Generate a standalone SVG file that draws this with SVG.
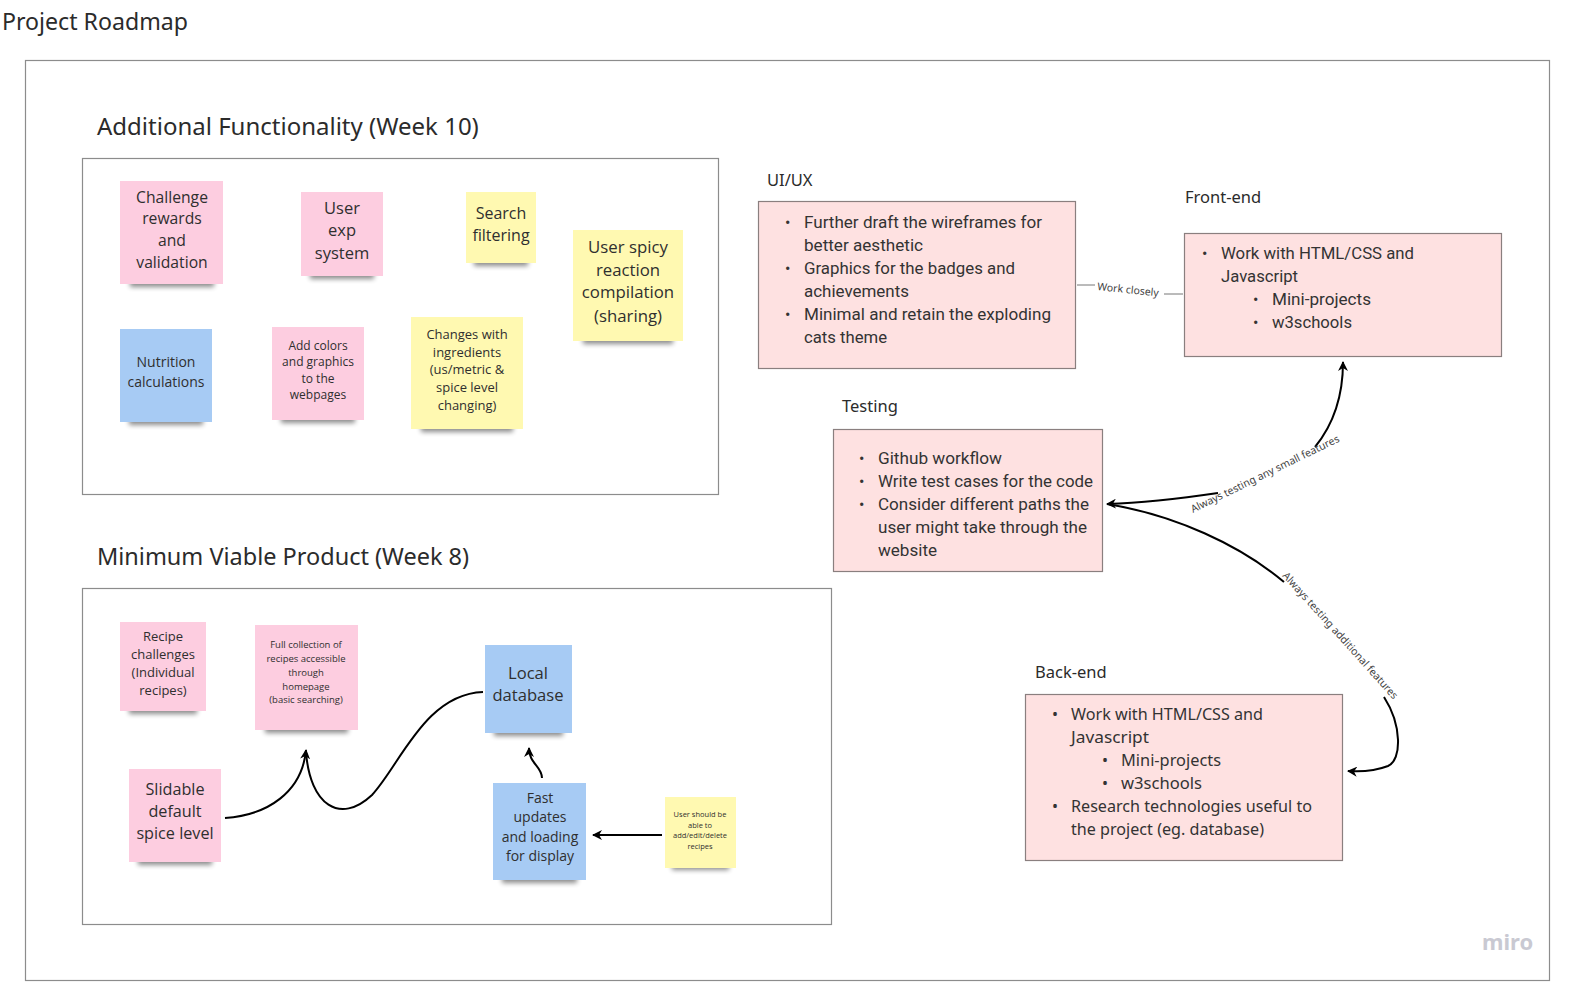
<svg xmlns="http://www.w3.org/2000/svg" width="1575" height="991" viewBox="0 0 1575 991">
<style>
.title{font-family:"Noto Sans","Open Sans",sans-serif;fill:#2b2b2b}
.frame{fill:#fff;stroke:#8c8c8c;stroke-width:1.2}
.pink{fill:#fdcde0}
.yellow{fill:#fff9b1}
.blue{fill:#a7cbf4}
.shadow{fill:#000;opacity:.45;filter:url(#blur)}
.st{font-family:"Open Sans","Noto Sans",sans-serif;font-stretch:94%;fill:#2f2f2f;text-anchor:middle}
.box{fill:#fee1e1;stroke:#8a7f7f;stroke-width:1.2}
.bt{font-family:"Roboto","Noto Sans",sans-serif;font-size:16px;fill:#333}
.bb{font-family:"Noto Sans","Open Sans",sans-serif;font-size:16px;fill:#333}
.lab{font-family:"Noto Sans","Open Sans",sans-serif;font-size:16.5px;fill:#2b2b2b}
.con{fill:none;stroke:#000;stroke-width:2}
.thin{fill:none;stroke:#777;stroke-width:1}
.cl{font-family:"Noto Sans","Open Sans",sans-serif;font-size:10.5px;fill:#444}
</style>
<defs>
<filter id="blur" x="-20%" y="-100%" width="140%" height="300%"><feGaussianBlur stdDeviation="2.5"/></filter>
<marker id="arr" viewBox="0 0 10 10" refX="9" refY="5" markerWidth="5" markerHeight="5" orient="auto-start-reverse" markerUnits="strokeWidth"><path d="M0,0 L10,5 L0,10 L3,5 z" fill="#000"/></marker>
</defs>
<rect width="1575" height="991" fill="#fff"/>
<text class="title" x="2" y="30" font-size="23" textLength="186" lengthAdjust="spacingAndGlyphs">Project Roadmap</text>
<rect class="frame" x="25.5" y="60.5" width="1524" height="920"/>

<g id="additional-functionality">
<text class="title" x="97" y="135" font-size="24">Additional Functionality (Week 10)</text>
<rect class="frame" x="82.5" y="158.5" width="636" height="336"/>
</g>
<g id="mvp">
<text class="title" x="97" y="565" font-size="24" textLength="372" lengthAdjust="spacingAndGlyphs">Minimum Viable Product (Week 8)</text>
<rect class="frame" x="82.5" y="588.5" width="749" height="336"/>
</g>

<g id="n-challenge">
<rect class="shadow" x="130" y="278" width="84" height="9"/>
<rect class="pink" x="120" y="181" width="103" height="103"/>
<text class="st" font-size="15.7"><tspan x="172" y="203">Challenge</tspan><tspan x="172" y="224">rewards</tspan><tspan x="172" y="246">and</tspan><tspan x="172" y="268">validation</tspan></text>
</g>
<g id="n-userexp">
<rect class="shadow" x="310" y="270" width="64" height="9"/>
<rect class="pink" x="301" y="192" width="82" height="84"/>
<text class="st" font-size="16.5"><tspan x="342" y="214">User</tspan><tspan x="342" y="236">exp</tspan><tspan x="342" y="259">system</tspan></text>
</g>
<g id="n-search">
<rect class="shadow" x="474" y="257" width="54" height="9"/>
<rect class="yellow" x="466" y="192" width="70" height="71"/>
<text class="st" font-size="16"><tspan x="501" y="219">Search</tspan><tspan x="501" y="241">filtering</tspan></text>
</g>
<g id="n-spicy">
<rect class="shadow" x="583" y="335" width="90" height="9"/>
<rect class="yellow" x="573" y="230" width="110" height="111"/>
<text class="st" font-size="16.8"><tspan x="628" y="253">User spicy</tspan><tspan x="628" y="276">reaction</tspan><tspan x="628" y="298">compilation</tspan><tspan x="628" y="322">(sharing)</tspan></text>
</g>
<g id="n-nutrition">
<rect class="shadow" x="129" y="416" width="74" height="9"/>
<rect class="blue" x="120" y="329" width="92" height="93"/>
<text class="st" font-size="14"><tspan x="166" y="367">Nutrition</tspan><tspan x="166" y="387">calculations</tspan></text>
</g>
<g id="n-colors">
<rect class="shadow" x="281" y="414" width="74" height="9"/>
<rect class="pink" x="272" y="327" width="92" height="93"/>
<text class="st" font-size="12"><tspan x="318" y="350">Add colors</tspan><tspan x="318" y="366">and graphics</tspan><tspan x="318" y="383">to the</tspan><tspan x="318" y="399">webpages</tspan></text>
</g>
<g id="n-changes">
<rect class="shadow" x="421" y="423" width="92" height="9"/>
<rect class="yellow" x="411" y="317" width="112" height="112"/>
<text class="st" font-size="13"><tspan x="467" y="339">Changes with</tspan><tspan x="467" y="357">ingredients</tspan><tspan x="467" y="374">(us/metric &amp;</tspan><tspan x="467" y="392">spice level</tspan><tspan x="467" y="410">changing)</tspan></text>
</g>

<g id="n-recipe">
<rect class="shadow" x="129" y="705" width="68" height="9"/>
<rect class="pink" x="120" y="622" width="86" height="89"/>
<text class="st" font-size="13"><tspan x="163" y="641">Recipe</tspan><tspan x="163" y="659">challenges</tspan><tspan x="163" y="677">(Individual</tspan><tspan x="163" y="695">recipes)</tspan></text>
</g>
<g id="n-fullcollection">
<rect class="shadow" x="265" y="724" width="83" height="9"/>
<rect class="pink" x="255" y="625" width="103" height="105"/>
<text class="st" font-size="9.5"><tspan x="306" y="648">Full collection of</tspan><tspan x="306" y="662">recipes accessible</tspan><tspan x="306" y="676">through</tspan><tspan x="306" y="690">homepage</tspan><tspan x="306" y="703">(basic searching)</tspan></text>
</g>
<g id="n-slidable">
<rect class="shadow" x="138" y="856" width="74" height="9"/>
<rect class="pink" x="129" y="769" width="92" height="93"/>
<text class="st" font-size="16.2"><tspan x="175" y="795">Slidable</tspan><tspan x="175" y="817">default</tspan><tspan x="175" y="839">spice level</tspan></text>
</g>
<g id="n-localdb">
<rect class="shadow" x="494" y="727" width="69" height="9"/>
<rect class="blue" x="485" y="645" width="87" height="88"/>
<text class="st" font-size="16.6"><tspan x="528" y="679">Local</tspan><tspan x="528" y="701">database</tspan></text>
</g>
<g id="n-fast">
<rect class="shadow" x="502" y="874" width="75" height="9"/>
<rect class="blue" x="493" y="783" width="93" height="97"/>
<text class="st" font-size="14"><tspan x="540" y="803">Fast</tspan><tspan x="540" y="822">updates</tspan><tspan x="540" y="842">and loading</tspan><tspan x="540" y="861">for display</tspan></text>
</g>
<g id="n-usershould">
<rect class="shadow" x="672" y="862" width="57" height="8"/>
<rect class="yellow" x="665" y="797" width="71" height="71"/>
<text class="st" font-size="7.5"><tspan x="700" y="817">User should be</tspan><tspan x="700" y="828">able to</tspan><tspan x="700" y="838">add/edit/delete</tspan><tspan x="700" y="849">recipes</tspan></text>
</g>

<g id="uiux">
<text class="lab" x="767" y="186">UI/UX</text>
<rect class="box" x="758.5" y="201.5" width="317" height="167"/>
<g class="bt">
<text x="785" y="228">•</text><text x="804" y="228" textLength="238" lengthAdjust="spacingAndGlyphs">Further draft the wireframes for</text>
<text x="804" y="251" textLength="119" lengthAdjust="spacingAndGlyphs">better aesthetic</text>
<text x="785" y="274">•</text><text x="804" y="274" textLength="211" lengthAdjust="spacingAndGlyphs">Graphics for the badges and</text>
<text x="804" y="297" textLength="105" lengthAdjust="spacingAndGlyphs">achievements</text>
<text x="785" y="320">•</text><text x="804" y="320" textLength="247" lengthAdjust="spacingAndGlyphs">Minimal and retain the exploding</text>
<text x="804" y="343" textLength="83" lengthAdjust="spacingAndGlyphs">cats theme</text>
</g>
</g>
<g id="frontend">
<text class="lab" x="1185" y="203">Front-end</text>
<rect class="box" x="1184.5" y="233.5" width="317" height="123"/>
<g class="bt">
<text x="1202" y="259">•</text><text x="1221" y="259" textLength="193" lengthAdjust="spacingAndGlyphs">Work with HTML/CSS and</text>
<text x="1221" y="282" textLength="77" lengthAdjust="spacingAndGlyphs">Javascript</text>
<text x="1253" y="305">•</text><text x="1272" y="305" textLength="99" lengthAdjust="spacingAndGlyphs">Mini-projects</text>
<text x="1253" y="328">•</text><text x="1272" y="328" textLength="80" lengthAdjust="spacingAndGlyphs">w3schools</text>
</g>
</g>
<g id="testing">
<text class="lab" x="842" y="412">Testing</text>
<rect class="box" x="833.5" y="429.5" width="269" height="142"/>
<g class="bt">
<text x="859" y="464">•</text><text x="878" y="464" textLength="124" lengthAdjust="spacingAndGlyphs">Github workflow</text>
<text x="859" y="487">•</text><text x="878" y="487" textLength="215" lengthAdjust="spacingAndGlyphs">Write test cases for the code</text>
<text x="859" y="510">•</text><text x="878" y="510" textLength="211" lengthAdjust="spacingAndGlyphs">Consider different paths the</text>
<text x="878" y="533" textLength="209" lengthAdjust="spacingAndGlyphs">user might take through the</text>
<text x="878" y="556" textLength="59" lengthAdjust="spacingAndGlyphs">website</text>
</g>
</g>
<g id="backend">
<text class="lab" x="1035" y="678">Back-end</text>
<rect class="box" x="1025.5" y="694.5" width="317" height="166"/>
<g class="bb">
<text x="1052" y="720">•</text><text x="1071" y="720" textLength="192" lengthAdjust="spacingAndGlyphs">Work with HTML/CSS and</text>
<text x="1071" y="743" textLength="78" lengthAdjust="spacingAndGlyphs">Javascript</text>
<text x="1102" y="766">•</text><text x="1121" y="766" textLength="100" lengthAdjust="spacingAndGlyphs">Mini-projects</text>
<text x="1102" y="789">•</text><text x="1121" y="789" textLength="81" lengthAdjust="spacingAndGlyphs">w3schools</text>
<text x="1052" y="812">•</text><text x="1071" y="812" textLength="241" lengthAdjust="spacingAndGlyphs">Research technologies useful to</text>
<text x="1071" y="835" textLength="193" lengthAdjust="spacingAndGlyphs">the project (eg. database)</text>
</g>
</g>

<g id="connectors">
<path class="con" d="M225 818 C268 815 302 792 306 750" marker-end="url(#arr)"/>
<path class="con" d="M483 692 C425 694 400 765 372 795 C340 825 310 805 306 752"/>
<path class="con" d="M542 778 C542 766 529 764 529 748" marker-end="url(#arr)"/>
<path class="con" d="M662 835 L593 835" marker-end="url(#arr)"/>
<path class="thin" d="M1077 285 L1095 285"/>
<text class="cl" transform="translate(1097 290) rotate(6)">Work closely</text>
<path class="thin" d="M1164 294 L1183 294"/>
<path class="con" d="M1315 447 C1333 425 1343 395 1343 362" marker-end="url(#arr)"/>
<path class="con" d="M1218 493 C1170 500 1135 503 1107 504" marker-end="url(#arr)"/>
<text class="cl" transform="translate(1193 513) rotate(-26)">Always testing any small features</text>
<path class="con" d="M1107 504 C1175 515 1240 545 1284 582"/>
<text class="cl" transform="translate(1282 576) rotate(48)">Always testing additional features</text>
<path class="con" d="M1384 697 C1402 725 1402 760 1388 766 C1375 771 1362 772 1348 771" marker-end="url(#arr)"/>
</g>
<text x="1482" y="950" font-family="Noto Sans, sans-serif" font-size="22" font-weight="bold" fill="#c9c9d2">miro</text>
</svg>
